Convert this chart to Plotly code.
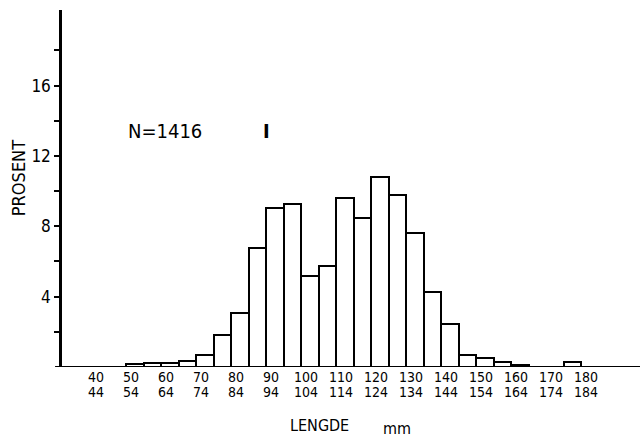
import plotly.graph_objects as go

# Length classes (start of each 5 mm class) and percentages
class_start = [40, 45, 50, 55, 60, 65, 70, 75, 80, 85, 90, 95, 100, 105, 110, 115,
               120, 125, 130, 135, 140, 145, 150, 155, 160, 165, 170, 175]
percent = [0.0, 0.0, 0.15, 0.23, 0.22, 0.36, 0.70, 1.80, 3.07, 6.77, 9.03, 9.26, 5.19, 5.72,
           9.60, 8.50, 10.80, 9.78, 7.64, 4.29, 2.46, 0.71, 0.51, 0.28, 0.10, 0.0, 0.0, 0.30]

tick_classes = [40, 50, 60, 70, 80, 90, 100, 110, 120, 130, 140, 150, 160, 170, 180]
tick_top = [str(c) for c in tick_classes]
tick_bottom = [str(c + 4) for c in tick_classes]

y_tickvals = [2, 4, 6, 8, 10, 12, 14, 16, 18]
y_ticktext = ["", "4", "", "8", "", "12", "", "16", ""]

FONT = "DejaVu Sans Condensed, Liberation Sans Narrow, sans-serif"
XR = [31.7, 196.8]

fig = go.Figure()
fig.add_trace(go.Bar(
    x=[c + 2.5 for c in class_start],
    y=percent,
    width=5,
    marker=dict(color="white", line=dict(color="black", width=2)),
    hoverinfo="x+y",
))
# invisible helper trace so the second (lower-row) label axis is drawn
fig.add_trace(go.Scatter(x=[c + 1.4 for c in tick_classes], y=[0] * len(tick_classes),
                         xaxis="x2", mode="markers", marker=dict(opacity=0),
                         hoverinfo="skip"))

fig.update_layout(
    width=642, height=444,
    margin=dict(l=62, r=2, t=10, b=77),
    paper_bgcolor="white", plot_bgcolor="white",
    showlegend=False,
    bargap=0,
    font=dict(family=FONT, color="black"),
    xaxis=dict(
        range=XR,
        tickvals=[c + 1.4 for c in tick_classes],
        ticktext=tick_top,
        ticks="", showgrid=False, zeroline=False, showline=False,
        tickfont=dict(size=14, family=FONT),
    ),
    xaxis2=dict(
        range=XR, overlaying="x", side="bottom", anchor="y",
        tickvals=[c + 1.4 for c in tick_classes],
        ticktext=tick_bottom,
        ticks="", showgrid=False, zeroline=False, showline=False,
        ticklabelstandoff=15,
        tickfont=dict(size=14, family=FONT),
    ),
    yaxis=dict(
        range=[0, 20.3],
        tickvals=y_tickvals, ticktext=y_ticktext,
        ticks="outside", ticklen=5, tickwidth=1.5, tickcolor="black",
        showline=True, linecolor="black", linewidth=2.5,
        showgrid=False, zeroline=False,
        tickfont=dict(size=17, family=FONT),
    ),
    shapes=[dict(type="line", xref="paper", yref="y", x0=-0.012, x1=1.0, y0=0, y1=0,
                 line=dict(color="black", width=2))],
    annotations=[
        dict(text="N=1416", xref="paper", yref="paper", x=0.179, y=0.661,
             xanchor="center", yanchor="middle",
             showarrow=False, font=dict(size=20, family=FONT)),
        dict(text="<b>I</b>", xref="paper", yref="paper", x=0.354, y=0.661,
             xanchor="center", yanchor="middle",
             showarrow=False, font=dict(size=20, family=FONT)),
        dict(text="PROSENT", xref="paper", yref="paper", x=-0.075, y=0.528,
             xanchor="center", yanchor="middle",
             textangle=-90, showarrow=False, font=dict(size=18, family=FONT)),
        dict(text="LENGDE", xref="paper", yref="paper", x=0.445, y=-0.165,
             xanchor="center", yanchor="middle",
             showarrow=False, font=dict(size=16, family=FONT)),
        dict(text="mm", xref="paper", yref="paper", x=0.58, y=-0.172,
             xanchor="center", yanchor="middle",
             showarrow=False, font=dict(size=16, family=FONT)),
    ],
)

fig.write_html("out.html")
